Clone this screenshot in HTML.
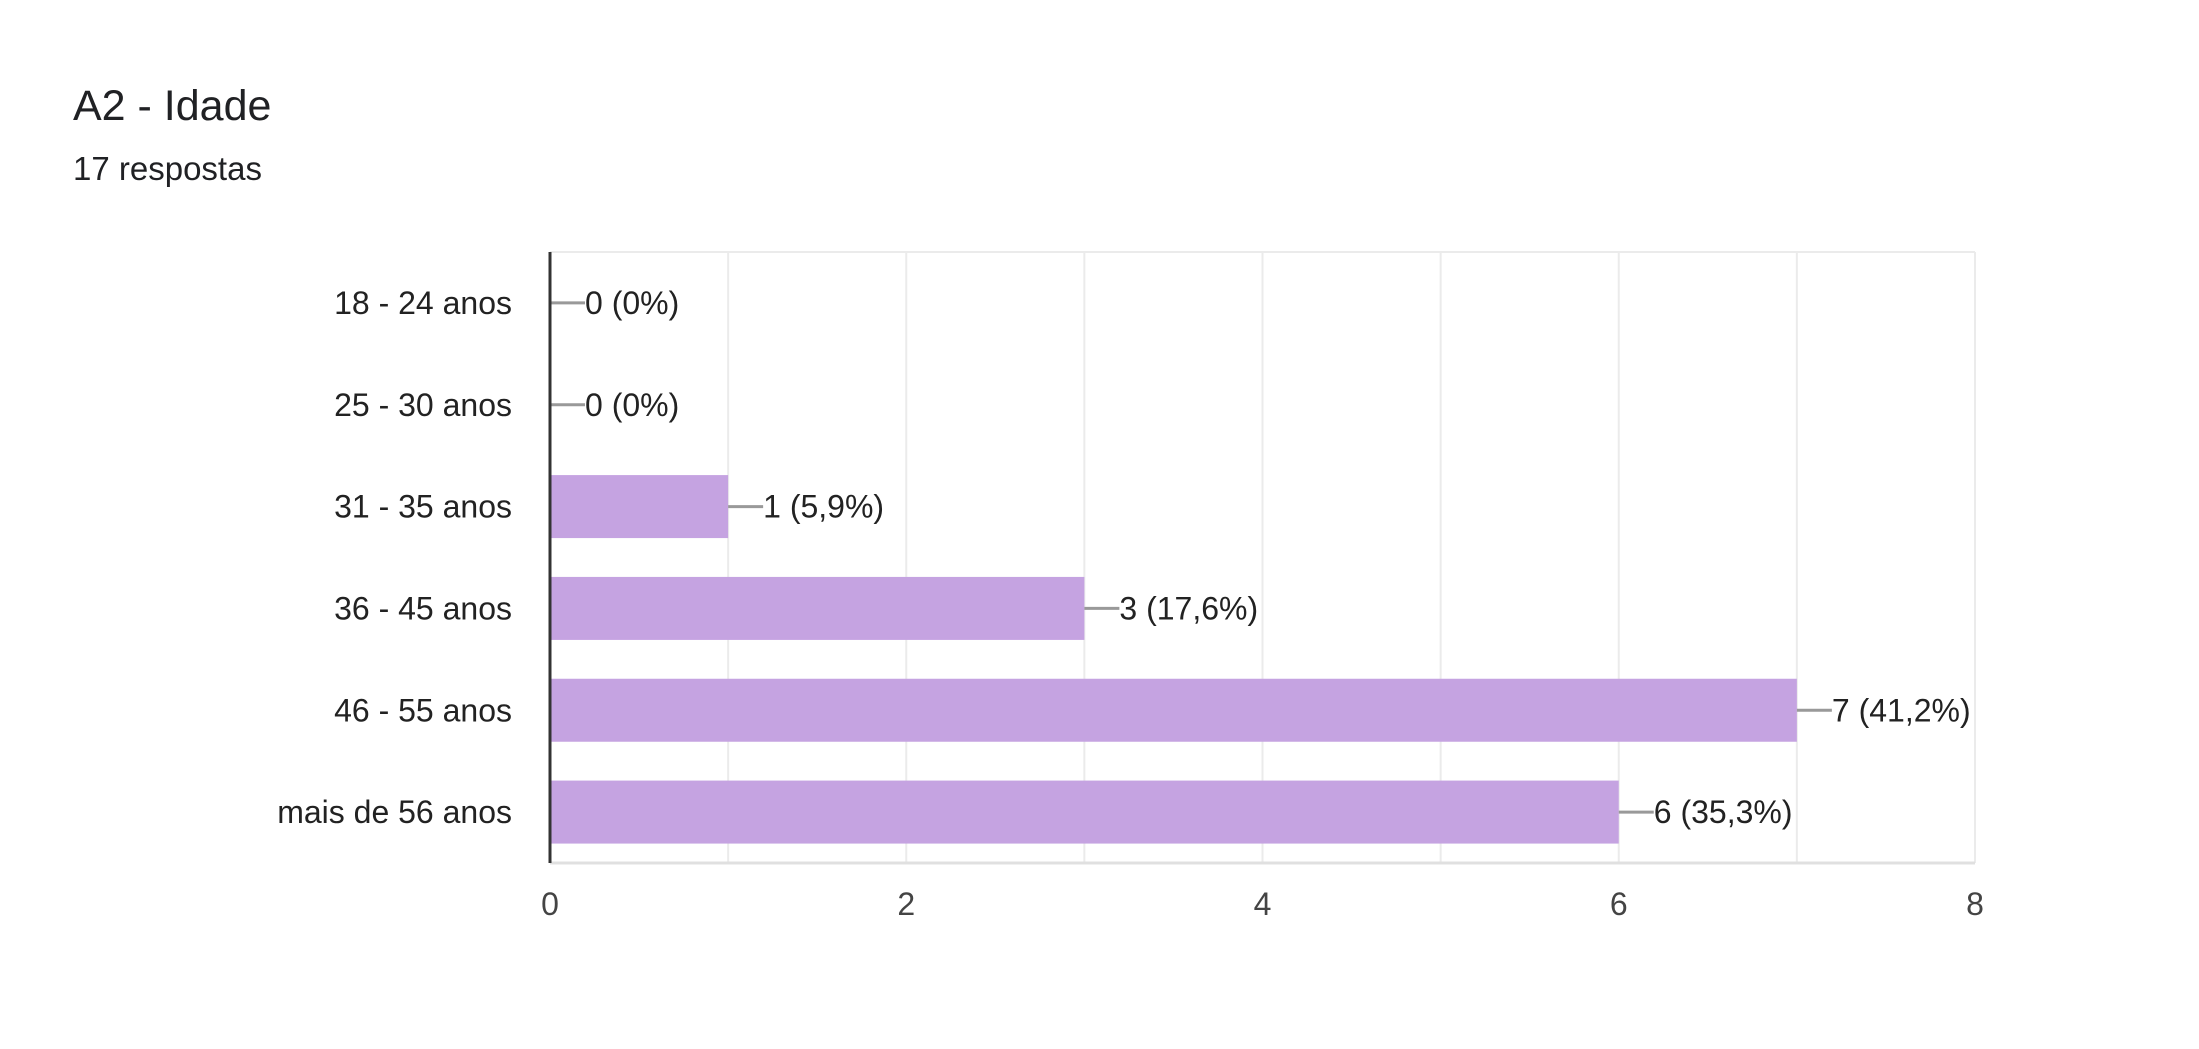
<!DOCTYPE html>
<html><head><meta charset="utf-8"><style>
body{margin:0;background:#fff;width:2199px;height:1044px;overflow:hidden;font-family:"Liberation Sans",sans-serif}
</style></head><body>
<svg width="2199" height="1044" xmlns="http://www.w3.org/2000/svg">
<text x="73" y="120" font-size="43" fill="#202124">A2 - Idade</text>
<text x="73" y="180" font-size="33" fill="#202124">17 respostas</text>
<g id="plot"></g>
</svg>
<script>
const categories=["18 - 24 anos","25 - 30 anos","31 - 35 anos","36 - 45 anos","46 - 55 anos","mais de 56 anos"];
const values=[0,0,1,3,7,6];
const valueLabels=["0 (0%)","0 (0%)","1 (5,9%)","3 (17,6%)","7 (41,2%)","6 (35,3%)"];
const ticks=[0,2,4,6,8];
const xMax=8;
{
const L=550,R=1975,T=252,B=863;
const band=(B-T)/categories.length,barH=63;
const xs=v=>L+(R-L)*v/xMax;
const ys=i=>T+band*i+band/2;
const g=document.getElementById('plot');
const NS="http://www.w3.org/2000/svg";
function mk(t,a){const e=document.createElementNS(NS,t);for(const k in a)e.setAttribute(k,a[k]);g.appendChild(e);return e;}
for(let k=0;k<=xMax;k++){
 const e=mk('line',{x1:xs(k),x2:xs(k),y1:T,y2:B,stroke:'#ebebeb','stroke-width':2});
 
 
}
const topBorder=mk('line',{x1:L,x2:R,y1:T,y2:T,stroke:'#ebebeb','stroke-width':2});


const bot=mk('line',{x1:L,x2:R,y1:B,y2:B,stroke:'#e0e0e0','stroke-width':3});


categories.forEach((c,i)=>{
 const cy=ys(i);
 const lab=mk('text',{x:512,y:cy+11,'font-size':32,'text-anchor':'end',fill:'#222'});
 lab.textContent=c;
 
 
 if(values[i]>0){
  const r=mk('rect',{x:L,y:cy-barH/2,width:xs(values[i])-L,height:barH,fill:'#c5a3e1'});
  
  
 }
 const ex=xs(values[i]);
 const ln=mk('line',{x1:ex,x2:ex+35,y1:cy,y2:cy,stroke:'#999','stroke-width':3});
 
 
 const vt=mk('text',{x:ex+35,y:cy+11,'font-size':32,fill:'#222'});
 vt.textContent=valueLabels[i];
 
 
});
const ax=mk('line',{x1:L,x2:L,y1:T,y2:B,stroke:'#333','stroke-width':3});


ticks.forEach(t=>{
 const e=mk('text',{x:xs(t),y:915,'font-size':32,'text-anchor':'middle',fill:'#444'});
 e.textContent=t;
 
 
});
}
</script>
</body></html>
